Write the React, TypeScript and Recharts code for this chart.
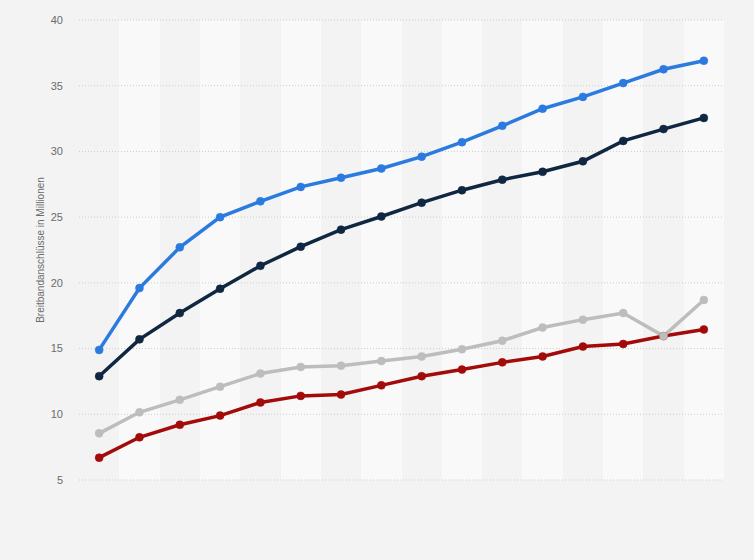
import { CartesianGrid, ComposedChart, Line, XAxis, YAxis } from "recharts";

const years = [
  "2006", "2007", "2008", "2009", "2010", "2011", "2012", "2013",
  "2014", "2015", "2016", "2017", "2018", "2019", "2020", "2021",
];
const blueSeries = [14.9, 19.6, 22.7, 25.0, 26.2, 27.3, 28.0, 28.7, 29.6, 30.7, 31.95, 33.25, 34.15, 35.2, 36.25, 36.9];
const navySeries = [12.9, 15.7, 17.7, 19.55, 21.3, 22.75, 24.05, 25.05, 26.1, 27.05, 27.85, 28.45, 29.25, 30.8, 31.7, 32.55];
const graySeries = [8.55, 10.15, 11.1, 12.1, 13.1, 13.6, 13.7, 14.05, 14.4, 14.95, 15.6, 16.6, 17.2, 17.7, 15.95, 18.7];
const redSeries = [6.7, 8.25, 9.2, 9.9, 10.9, 11.4, 11.5, 12.2, 12.9, 13.4, 13.95, 14.4, 15.15, 15.35, 15.95, 16.45];
const yTicks = [5, 10, 15, 20, 25, 30, 35, 40];

const data = years.map((year, i) => ({
  year,
  blue: blueSeries[i],
  navy: navySeries[i],
  gray: graySeries[i],
  red: redSeries[i],
}));

const series = [
  { key: "red", color: "#a30b0b" },
  { key: "gray", color: "#bdbdbd" },
  { key: "navy", color: "#0f2740" },
  { key: "blue", color: "#2a7ae0" },
];

// band edges for the alternating column stripes
const bandEdges = ({ offset }: any) =>
  Array.from({ length: years.length + 1 }, (_, i) => offset.left + (i * offset.width) / years.length);

export default function App() {
  return (
    <div
      style={{
        position: "absolute",
        left: 0,
        top: 0,
        width: 754,
        height: 560,
        background: "#f3f3f3",
        fontFamily: "'Liberation Sans', Arial, sans-serif",
      }}
    >
      <ComposedChart width={754} height={560} data={data} margin={{ top: 20, right: 30, bottom: 80, left: 0 }}>
        <CartesianGrid
          horizontal={false}
          stroke="none"
          verticalCoordinatesGenerator={bandEdges}
          verticalFill={["transparent", "#f9f9f9"]}
          fillOpacity={1}
        />
        <CartesianGrid vertical={false} stroke="#cdcdcd" strokeDasharray="1 2" />
        <XAxis dataKey="year" scale="band" hide height={0} />
        <YAxis
          width={79}
          domain={[5, 40]}
          ticks={yTicks}
          axisLine={false}
          tickLine={false}
          tickSize={0}
          tickMargin={16}
          tick={{ fill: "#6b6b6b", fontSize: 11 }}
          label={{
            value: "Breitbandanschlüsse in Millionen",
            angle: -90,
            position: "insideLeft",
            offset: 40,
            style: { textAnchor: "middle", fill: "#6b6b6b", fontSize: 10 },
          }}
        />
        {series.map((s) => (
          <Line
            key={s.key}
            dataKey={s.key}
            stroke={s.color}
            strokeWidth={3.5}
            dot={{ r: 4, fill: s.color, stroke: s.color, strokeWidth: 0.5 }}
            activeDot={false}
            isAnimationActive={false}
          />
        ))}
      </ComposedChart>
    </div>
  );
}
